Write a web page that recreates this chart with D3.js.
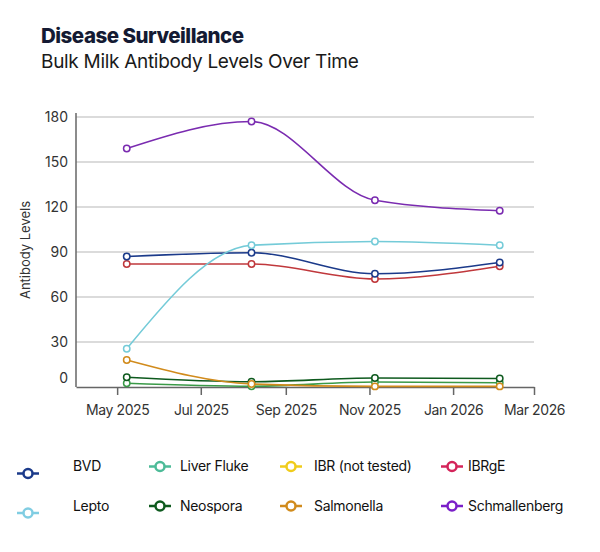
<!DOCTYPE html>
<html>
<head>
<meta charset="utf-8">
<script src="https://cdn.jsdelivr.net/npm/d3@7"></script>
<style>
  body { margin: 0; background: #fff; }
  svg text { font-family: Inter, "Noto Sans", sans-serif; fill: #222; }
</style>
</head>
<body>
<div class="chart"></div>
<script>
// Chart data
var sampleDates = ["2025-05-08", "2025-08-07", "2025-11-05", "2026-02-04"];

var seriesNames = ["BVD", "Lepto", "Liver Fluke", "Neospora", "IBR (not tested)", "Salmonella", "IBRgE", "Schmallenberg"];

var bvd = [87, 89.5, 75.5, 83];
var lepto = [25.5, 94.5, 97, 94.5];
var liverFluke = [2.5, 0.5, 3.3, 2.8];
var neospora = [6.5, 3.5, 6, 5.7];
var ibr = [null, null, null, null];
var salmonella = [18, 2, 0.4, 0.4];
var ibrge = [82, 82, 72, 80.5];
var schmallenberg = [159, 177, 124.5, 117.5];

var yTicks = [0, 30, 60, 90, 120, 150, 180];

var seriesValues = [bvd, lepto, liverFluke, neospora, ibr, salmonella, ibrge, schmallenberg];

// line colours in the plot, and the (slightly different) legend colours
var lineColors = ["#1b3a8a", "#74cbd8", "#3a9a48", "#0e5a1e", "#f0cc1b", "#d18b1c", "#c0383c", "#7a2bb0"];
var legendColors = ["#1b3a8a", "#80cde2", "#4dbb98", "#0e5a1e", "#f0cc1b", "#d18b1c", "#d4245a", "#7a1fc8"];

// Set up our chart
var svgWidth = 600;
var svgHeight = 552;

var parseDate = d3.timeParse("%Y-%m-%d");

var svg = d3.select(".chart")
    .append("svg")
    .attr("width", svgWidth)
    .attr("height", svgHeight);

// Titles
svg.append("text")
    .attr("x", 41)
    .attr("y", 43)
    .style("font-size", "20.5px")
    .style("font-weight", 800)
    .style("fill", "#141a33")
    .style("letter-spacing", "-0.5px")
    .text("Disease Surveillance");

svg.append("text")
    .attr("x", 41)
    .attr("y", 68)
    .style("font-size", "19px")
    .style("fill", "#1a1a1a")
    .style("letter-spacing", "-0.3px")
    .text("Bulk Milk Antibody Levels Over Time");

// Scales
var x = d3.scaleTime()
    .domain([parseDate("2025-04-01"), parseDate("2026-03-01")])
    .range([76, 534]);

var y = d3.scaleLinear()
    .domain([0, 180])
    .range([387, 117]);

// Gridlines
svg.append("g")
    .selectAll("line")
    .data(yTicks.filter(d => d > 0))
    .enter()
    .append("line")
    .attr("x1", x.range()[0])
    .attr("x2", x.range()[1])
    .attr("y1", d => y(d))
    .attr("y2", d => y(d))
    .attr("stroke", "#cfcfcf")
    .attr("stroke-width", 1.5);

// Axes
var bottomAxis = d3.axisBottom(x)
    .ticks(d3.timeMonth.every(2))
    .tickFormat(d3.timeFormat("%b %Y"))
    .tickSizeInner(8)
    .tickSizeOuter(0)
    .tickPadding(10);

var xAxisG = svg.append("g")
    .attr("transform", `translate(0, ${y(0)})`)
    .call(bottomAxis);
xAxisG.select(".domain").attr("stroke", "#666").attr("stroke-width", 1.5);
xAxisG.selectAll(".tick line").attr("stroke", "#666").attr("stroke-width", 1.5);
xAxisG.selectAll(".tick text")
    .style("font-size", "14px")
    .style("font-family", "Inter, sans-serif")
    .style("fill", "#333")
    .style("letter-spacing", "-0.4px");

var leftAxis = d3.axisLeft(y)
    .tickValues(yTicks)
    .tickSize(0)
    .tickPadding(8);

var yAxisG = svg.append("g")
    .attr("transform", `translate(${x.range()[0]}, 0)`)
    .call(leftAxis);
yAxisG.select(".domain").remove();
yAxisG.selectAll(".tick text")
    .style("font-size", "14px")
    .style("font-family", "Inter, sans-serif")
    .style("fill", "#333")
    .attr("dy", d => d === 0 ? "-0.3em" : "0.32em");

svg.append("line")
    .attr("x1", x.range()[0])
    .attr("x2", x.range()[0])
    .attr("y1", y(0))
    .attr("y2", y(180) - 4)
    .attr("stroke", "#666")
    .attr("stroke-width", 1.5);

// Axis label
svg.append("text")
    .attr("transform", `translate(30, ${(y(0) + y(180)) / 2 - 2}) rotate(-90)`)
    .attr("text-anchor", "middle")
    .style("font-size", "13px")
    .style("fill", "#333")
    .text("Antibody Levels");

// Lines and points
var line = d3.line()
    .defined(d => d.value !== null)
    .x(d => x(d.date))
    .y(d => y(d.value))
    .curve(d3.curveMonotoneX);

var drawOrder = [4, 2, 3, 5, 6, 0, 1, 7];

drawOrder.forEach(function(i) {
    var pts = sampleDates.map((s, j) => ({ date: parseDate(s), value: seriesValues[i][j] }));
    var valid = pts.filter(d => d.value !== null);
    if (!valid.length) return;

    svg.append("path")
        .datum(pts)
        .attr("d", line)
        .attr("fill", "none")
        .attr("stroke", lineColors[i])
        .attr("stroke-width", 1.6);

    svg.append("g")
        .selectAll("circle")
        .data(valid)
        .enter()
        .append("circle")
        .attr("cx", d => x(d.date))
        .attr("cy", d => y(d.value))
        .attr("r", 3.2)
        .attr("fill", "#fff")
        .attr("stroke", lineColors[i])
        .attr("stroke-width", 1.5);
});

// Legend
var legendCols = [
    { sym: 28, txt: 73, symDy: 7 },
    { sym: 160, txt: 180, symDy: 0 },
    { sym: 291, txt: 314, symDy: 0 },
    { sym: 452, txt: 468, symDy: 0 }
];
var legendRows = [466.5, 506];
var legendOrder = [0, 2, 4, 6, 1, 3, 5, 7];

legendOrder.forEach(function(i, k) {
    var col = legendCols[k % 4];
    var rowY = legendRows[Math.floor(k / 4)];
    var g = svg.append("g");
    var sy = rowY + col.symDy;

    g.append("line")
        .attr("x1", col.sym - 11)
        .attr("x2", col.sym + 11)
        .attr("y1", sy)
        .attr("y2", sy)
        .attr("stroke", legendColors[i])
        .attr("stroke-width", 2.5);

    g.append("circle")
        .attr("cx", col.sym)
        .attr("cy", sy)
        .attr("r", 4.5)
        .attr("fill", "#fff")
        .attr("stroke", legendColors[i])
        .attr("stroke-width", 2.5);

    g.append("text")
        .attr("x", col.txt)
        .attr("y", rowY)
        .attr("dy", "0.35em")
        .style("font-size", "14px")
        .style("fill", "#111")
        .style("letter-spacing", "-0.3px")
        .text(seriesNames[i]);
});
</script>
</body>
</html>
